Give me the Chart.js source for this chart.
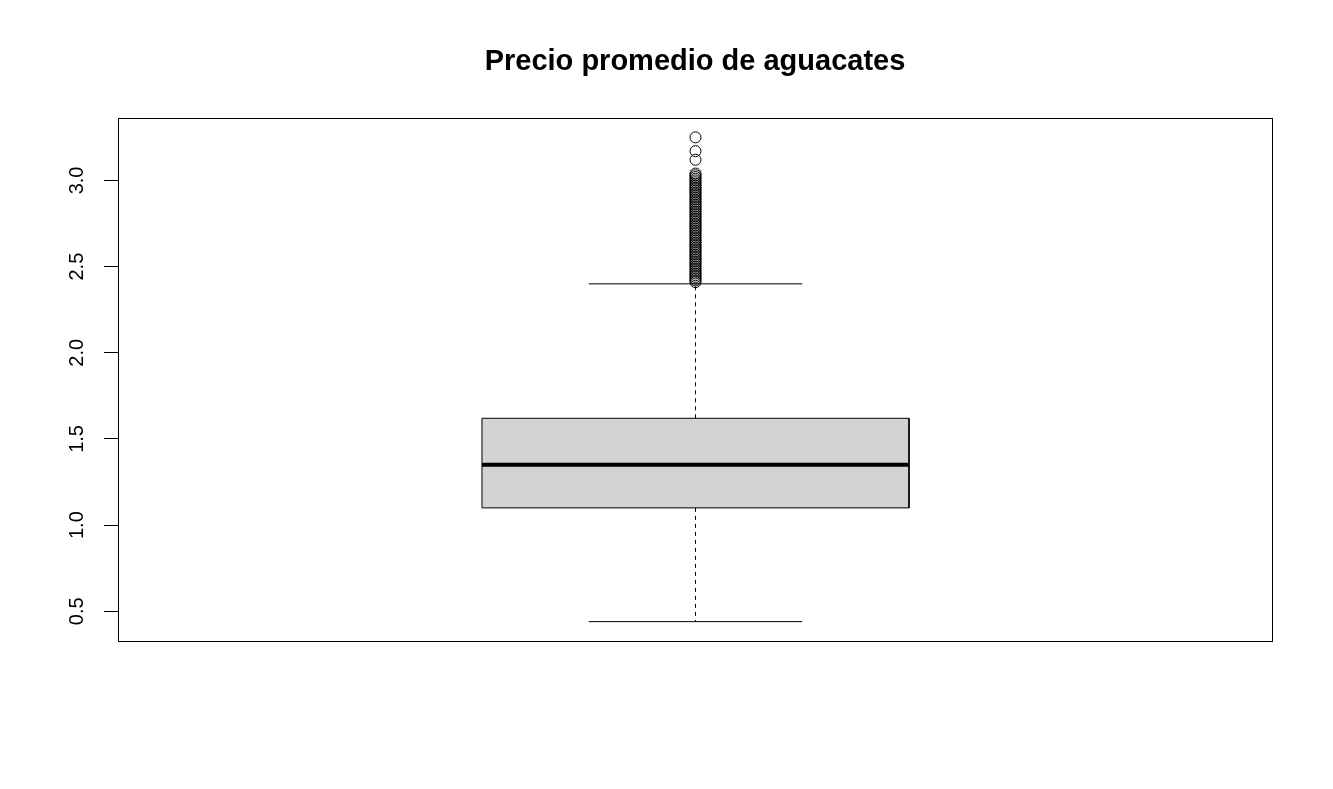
<!DOCTYPE html>
<html>
<head>
<meta charset="utf-8">
<script src="https://cdn.jsdelivr.net/npm/chart.js@4"></script>
<style>
  html, body { margin: 0; padding: 0; background: #ffffff; }
  #wrap { width: 1333px; height: 789px; }
</style>
</head>
<body>
<div id="wrap"><canvas id="c" width="1333" height="789"></canvas></div>
<script>
const chartTitle = 'Precio promedio de aguacates';
const boxPosition = [1];
// [lower whisker, Q1, median, Q3, upper whisker]
const boxStats = [0.44, 1.10, 1.35, 1.62, 2.40];
const outliers = [
  2.41, 2.42, 2.43, 2.44, 2.45, 2.46, 2.47, 2.48, 2.49, 2.50,
  2.51, 2.52, 2.53, 2.54, 2.55, 2.56, 2.57, 2.58, 2.59, 2.60,
  2.61, 2.62, 2.63, 2.64, 2.65, 2.66, 2.67, 2.68, 2.69, 2.70,
  2.71, 2.72, 2.73, 2.74, 2.75, 2.76, 2.77, 2.78, 2.79, 2.80,
  2.81, 2.82, 2.83, 2.84, 2.85, 2.86, 2.87, 2.88, 2.89, 2.90,
  2.91, 2.92, 2.93, 2.94, 2.95, 2.96, 2.97, 2.98, 2.99, 3.00,
  3.01, 3.02, 3.03, 3.04, 3.12, 3.17, 3.25
];
const yTicks = [0.5, 1.0, 1.5, 2.0, 2.5, 3.0];
const yTickLabels = ['0.5', '1.0', '1.5', '2.0', '2.5', '3.0'];

const boxHalf = 0.2;     // box half-width in x units
const stapleHalf = 0.1;  // whisker cap half-width

const cx = boxPosition[0];
const [wLo, q1, med, q3, wHi] = boxStats;
const dataMin = Math.min(wLo, ...outliers);
const dataMax = Math.max(wHi, ...outliers);
const pad = (dataMax - dataMin) * 0.04;

const frameAndTitle = {
  id: 'frameAndTitle',
  afterDraw(chart) {
    const { ctx, chartArea: a } = chart;
    ctx.save();
    ctx.strokeStyle = '#000';
    ctx.lineWidth = 1;
    ctx.strokeRect(Math.round(a.left) + 0.5, Math.round(a.top) + 0.5,
                   Math.round(a.right - a.left), Math.round(a.bottom - a.top));
    ctx.fillStyle = '#000';
    ctx.font = 'bold 29px "Liberation Sans", Arial, sans-serif';
    ctx.textAlign = 'center';
    ctx.textBaseline = 'middle';
    ctx.fillText(chartTitle, (a.left + a.right) / 2, 62);
    ctx.restore();
  }
};

new Chart(document.getElementById('c'), {
  type: 'scatter',
  data: {
    datasets: [
      {
        label: 'median',
        data: [{ x: cx - boxHalf, y: med }, { x: cx + boxHalf, y: med }],
        showLine: true, borderColor: '#000', borderWidth: 4, pointRadius: 0,
        borderCapStyle: 'butt', order: 0
      },
      {
        label: 'box',
        data: [
          { x: cx - boxHalf, y: q1 }, { x: cx - boxHalf, y: q3 },
          { x: cx + boxHalf, y: q3 }, { x: cx + boxHalf, y: q1 },
          { x: cx - boxHalf, y: q1 }
        ],
        showLine: true, fill: 'shape', backgroundColor: '#d3d3d3',
        borderColor: '#000', borderWidth: 1, pointRadius: 0, order: 1
      },
      {
        label: 'upperWhisker',
        data: [{ x: cx, y: q3 }, { x: cx, y: wHi }],
        showLine: true, borderColor: '#000', borderWidth: 1, borderDash: [4, 4],
        pointRadius: 0, order: 2
      },
      {
        label: 'lowerWhisker',
        data: [{ x: cx, y: q1 }, { x: cx, y: wLo }],
        showLine: true, borderColor: '#000', borderWidth: 1, borderDash: [4, 4],
        pointRadius: 0, order: 2
      },
      {
        label: 'upperStaple',
        data: [{ x: cx - stapleHalf, y: wHi }, { x: cx + stapleHalf, y: wHi }],
        showLine: true, borderColor: '#000', borderWidth: 1, pointRadius: 0, order: 2
      },
      {
        label: 'lowerStaple',
        data: [{ x: cx - stapleHalf, y: wLo }, { x: cx + stapleHalf, y: wLo }],
        showLine: true, borderColor: '#000', borderWidth: 1, pointRadius: 0, order: 2
      },
      {
        label: 'outliers',
        data: outliers.map(v => ({ x: cx, y: v })),
        showLine: false, pointStyle: 'circle', pointRadius: 5.5,
        pointBorderColor: '#000', pointBackgroundColor: 'rgba(0,0,0,0)',
        pointBorderWidth: 1, order: 3
      }
    ]
  },
  options: {
    responsive: false,
    animation: false,
    events: [],
    layout: { padding: { left: 0, right: 61, top: 118, bottom: 148 } },
    plugins: {
      legend: { display: false },
      title: { display: false },
      tooltip: { enabled: false }
    },
    scales: {
      x: {
        type: 'linear',
        display: false,
        min: 0.459064,
        max: 1.54
      },
      y: {
        type: 'linear',
        min: dataMin - pad,
        max: dataMax + pad,
        border: { display: false },
        grid: {
          drawOnChartArea: false,
          drawTicks: true,
          tickLength: 14,
          tickColor: '#000',
          tickWidth: 1
        },
        afterBuildTicks(scale) {
          scale.ticks = yTicks.map(v => ({ value: v }));
        },
        afterFit(scale) { scale.width = 118; },
        ticks: {
          minRotation: 90,
          maxRotation: 90,
          crossAlign: 'center',
          padding: 13,
          color: '#000',
          font: { family: '"Liberation Sans", Arial, sans-serif', size: 20 },
          callback(value) {
            const i = yTicks.indexOf(value);
            return i >= 0 ? yTickLabels[i] : '';
          }
        }
      }
    }
  },
  plugins: [frameAndTitle]
});
</script>
</body>
</html>
